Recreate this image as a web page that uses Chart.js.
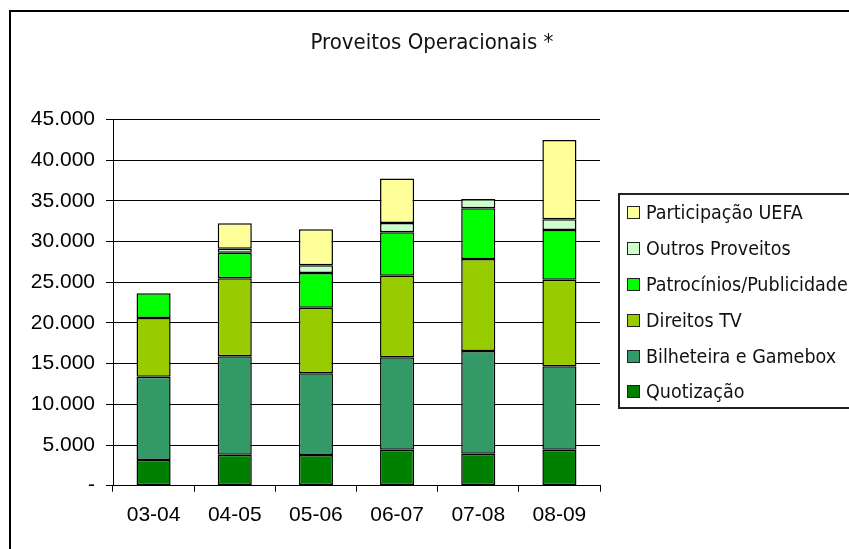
<!DOCTYPE html>
<html lang="pt">
<head>
    <meta charset="UTF-8">
    <title>Proveitos Operacionais</title>
    <script src="https://cdn.jsdelivr.net/npm/chart.js"></script>
    <style>
        body {
            margin: 0;
            background: #fff;
        }
        .wrap {
            position: relative;
            width: 849px;
            height: 549px;
            overflow: hidden;
        }
        /* outer chart frame, only its top and left edges are in view */
        .frame {
            position: absolute;
            left: 9px;
            top: 10px;
            width: 900px;
            height: 600px;
            border-top: 2px solid #000;
            border-left: 2px solid #000;
        }
        #chart {
            position: absolute;
            left: 0;
            top: 0;
        }
        .title {
            position: absolute;
            left: 0;
            width: 864px;
            top: 31px;
            line-height: 22px;
            text-align: center;
            font-family: "DejaVu Sans Condensed", "DejaVu Sans", sans-serif;
            font-size: 22px;
            color: #111;
        }
        .legend {
            position: absolute;
            left: 618px;
            top: 193px;
            width: 280px;
            height: 216px;
            box-sizing: border-box;
            border: 2px solid #222;
            border-right: none;
            padding-left: 7px;
            font-family: "DejaVu Sans Condensed", "DejaVu Sans", sans-serif;
            font-size: 19.5px;
            color: #111;
        }
        .legend .item {
            height: 35.8px;
            display: flex;
            align-items: center;
            white-space: nowrap;
        }
        .legend .sw {
            width: 11px;
            height: 11px;
            border: 1px solid #222;
            margin-right: 6px;
            flex: none;
        }
    </style>
</head>
<body>
<div class="wrap">
    <div class="frame"></div>
    <canvas id="chart" width="849" height="549"></canvas>
    <div class="title">Proveitos Operacionais *</div>
    <div class="legend" id="legend"></div>
</div>

<script>
    const categories = ['03-04', '04-05', '05-06', '06-07', '07-08', '08-09'];

    // values in thousands of euros
    const quotizacao  = [3150, 3810, 3770, 4420, 3930, 4420];
    const bilheteira  = [10250, 12090, 10040, 11350, 12620, 10250];
    const direitosTV  = [7200, 9580, 8060, 10030, 11300, 10640];
    const patrocinios = [3040, 3140, 4260, 5330, 6230, 6100];
    const outros      = [null, 500, 950, 1140, 1140, 1320];
    const uefa        = [null, 3120, 4420, 5490, null, 9740];

    const yMax = 45000;
    const yStep = 5000;

    function fmt(v) {
        if (v === 0) return '-';
        return String(v).replace(/\B(?=(\d{3})+(?!\d))/g, '.');
    }

    function series(label, data, color) {
        return {
            label: label,
            data: data,
            backgroundColor: color,
            borderColor: '#000',
            borderWidth: 1.5,
            borderSkipped: false,
            barPercentage: 0.42,
            categoryPercentage: 1
        };
    }

    const datasets = [
        series('Quotização', quotizacao, '#008000'),
        series('Bilheteira e Gamebox', bilheteira, '#339966'),
        series('Direitos TV', direitosTV, '#99CC00'),
        series('Patrocínios/Publicidade', patrocinios, '#00FF00'),
        series('Outros Proveitos', outros, '#CCFFCC'),
        series('Participação UEFA', uefa, '#FFFF99')
    ];

    const tickFont = { family: '"Liberation Sans", Arial, sans-serif', size: 21 };

    new Chart(document.getElementById('chart'), {
        type: 'bar',
        data: { labels: categories, datasets: datasets },
        options: {
            responsive: false,
            animation: false,
            layout: { padding: { left: 0, right: 249, top: 119.5, bottom: 0 } },
            plugins: {
                legend: { display: false },
                title: { display: false },
                tooltip: { enabled: false }
            },
            scales: {
                x: {
                    stacked: true,
                    grid: { drawOnChartArea: false, drawTicks: true, tickLength: 6, color: '#000', offset: true },
                    border: { display: true, color: '#000' },
                    ticks: { font: tickFont, color: '#000', padding: 11, maxRotation: 0 },
                    afterFit: function(scale) { scale.height = 63.3; }
                },
                y: {
                    stacked: true,
                    min: 0,
                    max: yMax,
                    grid: { color: '#000', tickLength: 7 },
                    border: { display: true, color: '#000' },
                    ticks: {
                        stepSize: yStep,
                        font: tickFont,
                        color: '#000',
                        padding: 11,
                        callback: function(v) { return fmt(v); }
                    },
                    afterFit: function(scale) { scale.width = 113; }
                }
            }
        }
    });

    // legend box, top entry is the top of the stack
    const legendEl = document.getElementById('legend');
    datasets.slice().reverse().forEach(function(ds) {
        const item = document.createElement('div');
        item.className = 'item';
        const sw = document.createElement('span');
        sw.className = 'sw';
        sw.style.background = ds.backgroundColor;
        const txt = document.createElement('span');
        txt.textContent = ds.label;
        item.appendChild(sw);
        item.appendChild(txt);
        legendEl.appendChild(item);
    });
</script>
</body>
</html>
